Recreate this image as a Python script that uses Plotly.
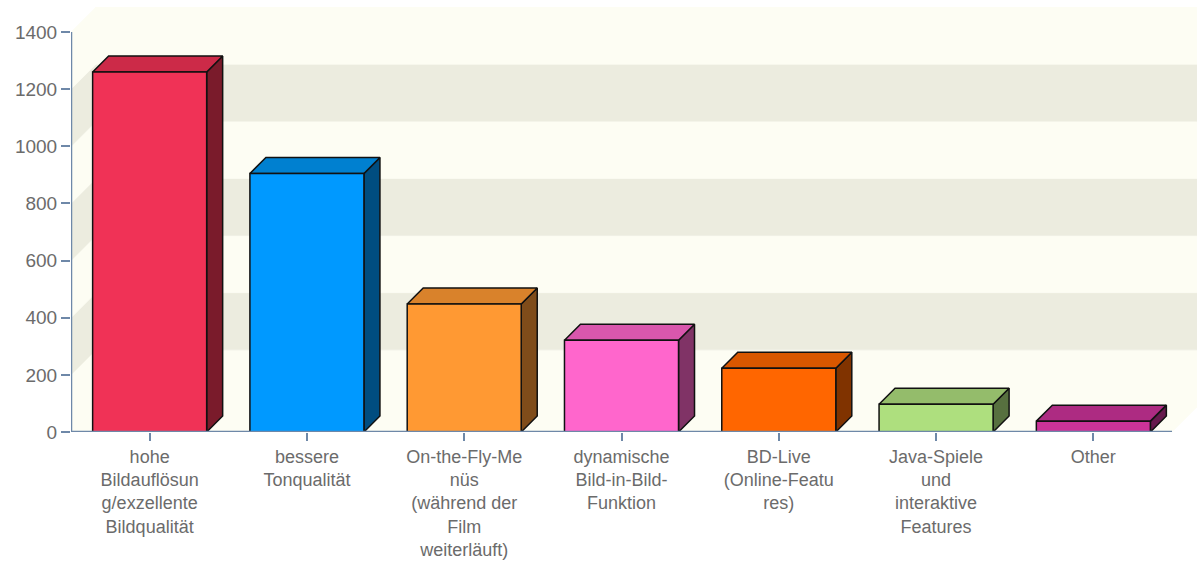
import plotly.graph_objects as go

# Blu-ray feature survey: number of votes per feature
categories = [
    "hohe<br>Bildauflösun<br>g/exzellente<br>Bildqualität",
    "bessere<br>Tonqualität",
    "On-the-Fly-Me<br>nüs<br>(während der<br>Film<br>weiterläuft)",
    "dynamische<br>Bild-in-Bild-<br>Funktion",
    "BD-Live<br>(Online-Featu<br>res)",
    "Java-Spiele<br>und<br>interaktive<br>Features",
    "Other",
]
values = [1260, 905, 448, 321, 223, 97, 38]

y_ticks = [0, 200, 400, 600, 800, 1000, 1200, 1400]

front_colors = ["#F03256", "#0099FF", "#FF9933", "#FF66CC", "#FF6600", "#AEDF7E", "#CC3399"]
top_colors = ["#CC2A48", "#0080D0", "#D9822B", "#D957AD", "#D95700", "#94BC6B", "#AD2B82"]
side_colors = ["#7A1B2B", "#004D80", "#7F4C1A", "#803366", "#803300", "#57703F", "#661A4D"]

# ---- geometry (pixels) ----
W, H = 1197, 563
M_L, M_R, M_T, M_B = 71, 0, 7, 131
Y_MAX = 1400
WALL_PX = 25      # depth of the back wall
BAR_PX = 16       # depth of each bar
BAR_W = 0.725     # bar width as fraction of a category slot

n = len(categories)
plot_w = W - M_L - M_R
plot_h = H - M_T - M_B
px_per_x = (plot_w - WALL_PX) / n
px_per_y = (plot_h - WALL_PX) / Y_MAX

wall_dx = WALL_PX / px_per_x
wall_dy = WALL_PX / px_per_y
bar_dx = BAR_PX / px_per_x
bar_dy = BAR_PX / px_per_y

x0, x1 = -0.5, n - 0.5

CREAM = "#FDFDF3"
BEIGE = "#ECECDF"
AXIS = "#6E88A8"
TEXT = "#6B6B6B"

fig = go.Figure()


def poly(xs, ys, fill, line_color=None, line_width=0):
    fig.add_trace(go.Scatter(
        x=xs + [xs[0]], y=ys + [ys[0]],
        mode="lines", fill="toself", fillcolor=fill,
        line=dict(color=line_color or fill, width=line_width if line_color else 0.5),
        hoverinfo="skip", showlegend=False,
    ))


# floor
poly([x0, x1, x1 + wall_dx, x0 + wall_dx], [0, 0, wall_dy, wall_dy], CREAM)

# back wall and side wall, banded every 200
for k in range(len(y_ticks) - 1):
    lo, hi = y_ticks[k], y_ticks[k + 1]
    c = BEIGE if k % 2 == 1 else CREAM
    poly([x0 + wall_dx, x1 + wall_dx, x1 + wall_dx, x0 + wall_dx],
         [lo + wall_dy, lo + wall_dy, hi + wall_dy, hi + wall_dy], c)
    poly([x0, x0 + wall_dx, x0 + wall_dx, x0],
         [lo, lo + wall_dy, hi + wall_dy, hi], c)

# 3D bars: side, top, front
for i, v in enumerate(values):
    l = i - BAR_W / 2
    r = i + BAR_W / 2
    poly([r, r + bar_dx, r + bar_dx, r], [0, bar_dy, v + bar_dy, v],
         side_colors[i], "#111111", 1.5)
    poly([l, l + bar_dx, r + bar_dx, r], [v, v + bar_dy, v + bar_dy, v],
         top_colors[i], "#111111", 1.5)
    poly([l, r, r, l], [0, 0, v, v], front_colors[i], "#111111", 1.5)

# axis lines
fig.add_trace(go.Scatter(x=[x0, x1], y=[0, 0], mode="lines",
                         line=dict(color=AXIS, width=2.5),
                         hoverinfo="skip", showlegend=False))
fig.add_trace(go.Scatter(x=[x0, x0], y=[0, Y_MAX], mode="lines",
                         line=dict(color=AXIS, width=2.5),
                         hoverinfo="skip", showlegend=False))

y_font = dict(family="Liberation Sans", size=19, color=TEXT)
x_font = dict(family="Liberation Sans", size=18, color=TEXT)

fig.update_layout(
    width=W, height=H,
    margin=dict(l=M_L, r=M_R, t=M_T, b=M_B, pad=0),
    paper_bgcolor="white", plot_bgcolor="white",
    showlegend=False,
    font=x_font,
    xaxis=dict(
        range=[x0, x1 + wall_dx],
        tickvals=list(range(n)), ticktext=categories,
        ticks="outside", ticklen=8, tickwidth=2, tickcolor=AXIS,
        showgrid=False, zeroline=False, showline=False,
        tickfont=x_font, tickangle=0, fixedrange=True, automargin=False,
    ),
    yaxis=dict(
        range=[0, Y_MAX + wall_dy],
        tickvals=y_ticks, ticktext=[str(t) for t in y_ticks],
        ticks="outside", ticklen=9, tickwidth=2, tickcolor=AXIS,
        showgrid=False, zeroline=False, showline=False,
        tickfont=y_font, fixedrange=True, automargin=False,
    ),
)

fig.write_html("out.html")
